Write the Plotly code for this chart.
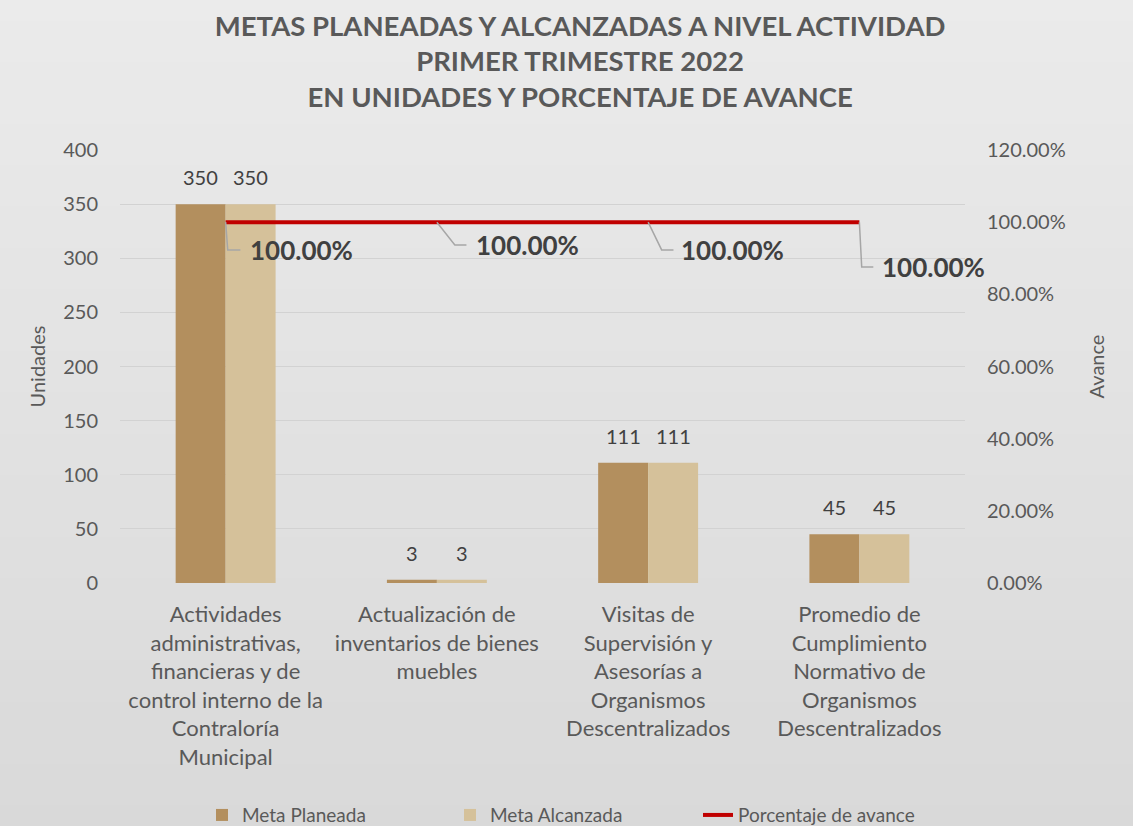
import plotly.graph_objects as go

categories = [
    "Actividades<br>administrativas,<br>financieras y de<br>control interno de la<br>Contraloría<br>Municipal",
    "Actualización de<br>inventarios de bienes<br>muebles",
    "Visitas de<br>Supervisión y<br>Asesorías a<br>Organismos<br>Descentralizados",
    "Promedio de<br>Cumplimiento<br>Normativo de<br>Organismos<br>Descentralizados",
]
meta_planeada = [350, 3, 111, 45]
meta_alcanzada = [350, 3, 111, 45]
porcentaje_avance = [1.0, 1.0, 1.0, 1.0]

# label offsets for the percentage labels (category units, y2 units)
label_dx = [0.36, 0.43, 0.40, 0.35]
label_y = [0.923, 0.937, 0.923, 0.876]
# leader line elbows
elbow_dx = [0.01, 0.085, 0.064, 0.011]
elbow_end_dx = [0.07, 0.14, 0.12, 0.066]

FONT = "Lato"
TXT = "#595959"

fig = go.Figure()
fig.add_trace(go.Bar(
    x=categories, y=meta_planeada, name="Meta Planeada",
    marker=dict(color="#b38f5e", line=dict(width=0)),
))
fig.add_trace(go.Bar(
    x=categories, y=meta_alcanzada, name="Meta Alcanzada",
    marker=dict(color="#d5c19a", line=dict(width=0)),
))
fig.add_trace(go.Scatter(
    x=categories, y=porcentaje_avance, name="Porcentaje de avance", yaxis="y2",
    mode="lines", line=dict(color="#c00000", width=4), cliponaxis=False,
))

shapes = []
# gradient background bands
L, R, T, B = 120, 168, 150, 243
W, H = 1133, 826
pw, ph = W - L - R, H - T - B
n = 40
top = (0xeb, 0xeb, 0xeb)
bot = (0xd9, 0xd9, 0xd9)
for k in range(n):
    y0px = H * k / n
    y1px = H * (k + 1) / n + 1
    f = (k + 0.5) / n
    c = tuple(round(top[j] + (bot[j] - top[j]) * f) for j in range(3))
    shapes.append(dict(
        type="rect", xref="paper", yref="paper", layer="below",
        x0=-L / pw, x1=(W - L) / pw,
        y0=(H - B - y1px) / ph, y1=(H - B - y0px) / ph,
        fillcolor="rgb(%d,%d,%d)" % c, line=dict(width=0),
    ))

annotations = []
# bar value labels
for cat, vp, va in zip(categories, meta_planeada, meta_alcanzada):
    for v, xs in ((vp, -25), (va, 25)):
        annotations.append(dict(
            x=cat, y=v, xref="x", yref="y", text=str(v), showarrow=False,
            xshift=xs, yshift=13, yanchor="bottom", xanchor="center",
            font=dict(family=FONT, size=20, color="#404040"),
        ))

for i, (v, dx, ly, ex, ee) in enumerate(zip(porcentaje_avance, label_dx, label_y, elbow_dx, elbow_end_dx)):
    annotations.append(dict(
        x=i + dx, y=ly, xref="x", yref="y2", text="<b>%.2f%%</b>" % (v * 100),
        showarrow=False, font=dict(family=FONT, size=26, color="#404040"),
        xanchor="center", yanchor="middle",
    ))
    shapes.append(dict(
        type="path", xref="x", yref="y2",
        path="M %f,%f L %f,%f L %f,%f" % (i, v, i + ex, ly, i + ee, ly),
        line=dict(color="#a6a6a6", width=1.5),
    ))

fig.update_layout(
    width=W, height=H,
    margin=dict(l=L, r=R, t=T, b=B, autoexpand=False),
    paper_bgcolor="#e3e3e3", plot_bgcolor="rgba(0,0,0,0)",
    font=dict(family=FONT, size=20, color=TXT),
    title=dict(
        text="<b>METAS PLANEADAS Y ALCANZADAS A NIVEL ACTIVIDAD<br>PRIMER TRIMESTRE 2022<br>EN UNIDADES Y PORCENTAJE DE AVANCE</b>",
        x=0.512, xanchor="center", y=0.957, yanchor="middle",
        font=dict(family=FONT, size=27.5, color=TXT),
    ),
    barmode="group", bargap=0.527, bargroupgap=0,
    xaxis=dict(
        range=[-0.5, len(categories) - 0.5], autorange=False,
        showgrid=False, showline=False, ticks="", ticklabelstandoff=16,
        tickfont=dict(family=FONT, size=22, color=TXT), automargin=False,
    ),
    yaxis=dict(
        range=[0, 400], dtick=50, showgrid=True, gridcolor="#d2d2d2", gridwidth=1,
        zeroline=False, showline=False, ticks="", ticklabelstandoff=21,
        tickfont=dict(family=FONT, size=20, color=TXT), automargin=False,
        title=dict(text="Unidades", standoff=12, font=dict(family=FONT, size=20, color=TXT)),
    ),
    yaxis2=dict(
        range=[0, 1.2], dtick=0.2, tickformat=".2%", overlaying="y", side="right",
        showgrid=False, zeroline=False, showline=False, ticks="", ticklabelstandoff=21,
        tickfont=dict(family=FONT, size=20, color=TXT), automargin=False,
        title=dict(text="Avance", standoff=25, font=dict(family=FONT, size=20, color=TXT)),
    ),
    legend=dict(
        orientation="h", x=(202 - L) / pw, xanchor="left", y=-0.536, yanchor="middle",
        font=dict(family=FONT, size=19, color=TXT), bgcolor="rgba(0,0,0,0)",
        entrywidth=203, traceorder="normal",
    ),
    shapes=shapes, annotations=annotations,
)

fig.write_html(
    "out.html",
    config={"displayModeBar": False},
    post_script="document.body.style.margin='0';document.body.style.overflow='hidden';",
)
